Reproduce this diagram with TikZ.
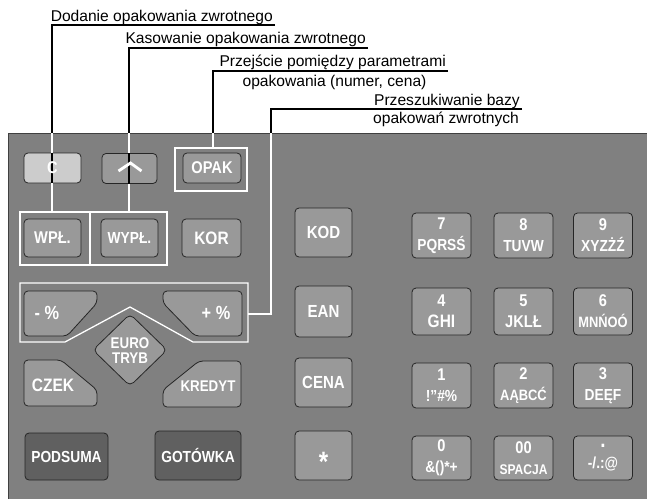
\documentclass[tikz,border=0pt]{standalone}
\usepackage{fontspec}
\setmainfont{Liberation Sans}
\newfontfamily\keyfont{Liberation Sans}[FakeStretch=0.86]
\definecolor{panel}{HTML}{808080}
\definecolor{keymid}{HTML}{999999}
\definecolor{keylight}{HTML}{CCCCCC}
\definecolor{keydark}{HTML}{606060}
\newcommand{\keysize}[1]{\keyfont\bfseries\fontsize{#1}{#1}\selectfont}
\newcommand{\numtxt}[2]{#1\\[4pt]{\keysize{16}#2}}

\begin{document}
\begin{tikzpicture}[x=1pt,y=-1pt,
  key/.style={draw=black!85,line width=0.8pt,rounded corners=4pt,fill=keymid,text=white,
    inner sep=0pt,minimum width=57pt,minimum height=30pt,font=\keysize{17}},
  keylt/.style={key,fill=keylight},
  keydk/.style={key,fill=keydark,font=\keysize{16}},
  numkey/.style={key,minimum width=59pt,minimum height=45pt,align=center,font=\keysize{17}},
  sidekey/.style={key,minimum width=57pt,minimum height=49pt,font=\keysize{17.5}},
  cutkey/.style={draw=black!85,line width=0.8pt,rounded corners=4pt,fill=keymid},
  keytext/.style={text=white,inner sep=0pt,font=\keysize{15}},
  callout/.style={line width=1.2pt,black},
  inner/.style={line width=1.2pt,white},
  frame/.style={draw=white,line width=1.3pt},
  label/.style={inner sep=0pt,anchor=base east,font=\fontsize{15.6}{18}\selectfont}]
\useasboundingbox (0,0) rectangle (647,498);
% keyboard plate
\fill[panel] (8,133) rectangle (648,499);
\draw[black!75,line width=1pt] (8,499) -- (8,133) -- (648,133);
\coordinate (ptop) at (0,133);

% white frames
\node[frame,minimum width=72pt,minimum height=43pt] (oframe) at (211,169.5) {};
\node[frame,minimum width=147pt,minimum height=53pt] (wframe) at (93.5,238.5) {};
\coordinate (div) at (90,212);
\draw[frame] (div) -- (div |- wframe.south);
\draw[frame] (20,283) -- (248,283) -- (248,342) -- (193,342) -- (130,307) -- (65,342) -- (20,342) -- cycle;
\coordinate (pfr) at (248,314);

% upper keys
\node[keylt] (c) at (52.5,168) {};
\node[key,minimum width=55pt] (up) at (129.5,168.5) {};
\node[key,minimum width=58pt] (opak) at (212,168) {OPAK};
\node[key,minimum height=38pt] (wpl) at (52.5,238) {WPŁ.};
\node[key,minimum height=38pt,font=\keysize{16}] (wypl) at (129.5,238) {WYPŁ.};
\node[key,minimum width=59pt,minimum height=38pt,font=\keysize{18}] (kor) at (211.5,238) {KOR};

% shaped keys
\draw[cutkey] (24,291) -- (97,291) -- (97,303) -- (67,336) -- (24,336) -- cycle;
\node[keytext,font=\keysize{19}] (minus) at (47,313) {- \%};
\draw[cutkey] (163,291) -- (242,291) -- (242,336) -- (195,336) -- (163,303) -- cycle;
\node[keytext,font=\keysize{19}] (plus) at (216,313) {+ \%};
\draw[cutkey,rounded corners=5pt] (130,314) -- (167,350) -- (130,386) -- (93,350) -- cycle;
\node[keytext,align=center,font=\keyfont\bfseries\fontsize{15.5}{15}\selectfont] (euro) at (130,351) {EURO\\TRYB};
\draw[cutkey] (24,360) -- (61,360) -- (97,390) -- (97,406) -- (24,406) -- cycle;
\node[keytext,font=\keysize{18}] (czek) at (53,385) {CZEK};
\draw[cutkey] (163,390) -- (199,361) -- (241,361) -- (241,407) -- (163,407) -- cycle;
\node[keytext,font=\keysize{15.5}] (kredyt) at (208,386) {KREDYT};
\node[keydk,minimum width=83pt,minimum height=47pt] (podsuma) at (66.5,456.5) {PODSUMA};
\node[keydk,minimum width=86pt,minimum height=49pt] (gotowka) at (198,455.5) {GOTÓWKA};

% middle column
\node[sidekey] (kod) at (323.5,232.5) {KOD};
\node[sidekey,minimum height=51pt] (ean) at (323.5,311.5) {EAN};
\node[sidekey] (cena) at (323.5,382.5) {CENA};
\node[sidekey,font=\keysize{28},text height=31pt,text depth=0pt] (star) at (323.5,455.5) {*};

% numeric keys
\node[numkey] (k7) at (441.5,235.5) {\numtxt{7}{PQRSŚ}};
\node[numkey] (k8) at (523.5,235.5) {\numtxt{8}{TUVW}};
\node[numkey] (k9) at (603,235.5) {\numtxt{9}{XYZŻŹ}};
\node[numkey,minimum height=47pt] (k4) at (441.5,311.5) {\numtxt{4}{{\keysize{18}GHI}}};
\node[numkey,minimum height=47pt] (k5) at (523.5,311.5) {\numtxt{5}{{\keysize{17}JKLŁ}}};
\node[numkey,minimum height=47pt] (k6) at (603,311.5) {\numtxt{6}{{\keysize{15}MNŃOÓ}}};
\node[numkey] (k1) at (441.5,385.5) {\numtxt{1}{!”\#\%}};
\node[numkey] (k2) at (523.5,385.5) {\numtxt{2}{{\keysize{15}AĄBCĆ}}};
\node[numkey] (k3) at (603,385.5) {\numtxt{3}{DEĘF}};
\node[numkey,minimum height=44pt] (k0) at (441.5,458) {\numtxt{0}{\&()*+}};
\node[numkey,minimum height=44pt] (k00) at (523.5,458) {\numtxt{00}{{\keysize{14}SPACJA}}};
\node[numkey,minimum height=44pt] (kdot) at (603,458) {\numtxt{{\keysize{22}.}}{-/.:@}};

% callouts
\node[label] (lab1) at (273,21) {Dodanie opakowania zwrotnego};
\coordinate (end1) at (275,25);
\coordinate (bend1) at (52,25);
\draw[callout] (end1) -- (bend1) -- (bend1 |- ptop);
\draw[inner] (bend1 |- ptop) -- (bend1 |- c.north);
\draw[callout] (bend1 |- c.north) -- (bend1 |- c.south);
\draw[inner] (bend1 |- c.south) -- (bend1 |- wframe.north);
\node[text=white,font=\keysize{17}] (ctext) at (c.center) {C};

\node[label] (lab2) at (366,43) {Kasowanie opakowania zwrotnego};
\coordinate (end2) at (368,48);
\coordinate (bend2) at (129,48);
\draw[callout] (end2) -- (bend2) -- (bend2 |- ptop);
\draw[inner] (bend2 |- ptop) -- (bend2 |- up.north);
\draw[callout] (bend2 |- up.north) -- (bend2 |- up.south);
\draw[inner] (bend2 |- up.south) -- (bend2 |- wframe.north);
% up arrow
\draw[white,line width=2.8pt] ([xshift=-11pt,yshift=-2.5pt]up.center) -- ([xshift=1pt,yshift=5.5pt]up.center) -- ([xshift=12pt,yshift=-2.5pt]up.center);

\node[label] (lab3) at (446,66) {Przejście pomiędzy parametrami};
\node[label,anchor=base] (lab3b) at (334.5,86) {opakowania (numer, cena)};
\coordinate (end3) at (448,71);
\coordinate (bend3) at (213,71);
\draw[callout] (end3) -- (bend3) -- (bend3 |- ptop);
\draw[inner] (bend3 |- ptop) -- (bend3 |- oframe.north);

\node[label] (lab4) at (520,105) {Przeszukiwanie bazy};
\node[label,anchor=base] (lab4b) at (446,123) {opakowań zwrotnych};
\coordinate (end4) at (522,109);
\coordinate (bend4) at (271,109);
\draw[callout] (end4) -- (bend4) -- (bend4 |- ptop);
\draw[inner] (bend4 |- ptop) -- (bend4 |- pfr) -- (pfr);
\end{tikzpicture}
\end{document}
